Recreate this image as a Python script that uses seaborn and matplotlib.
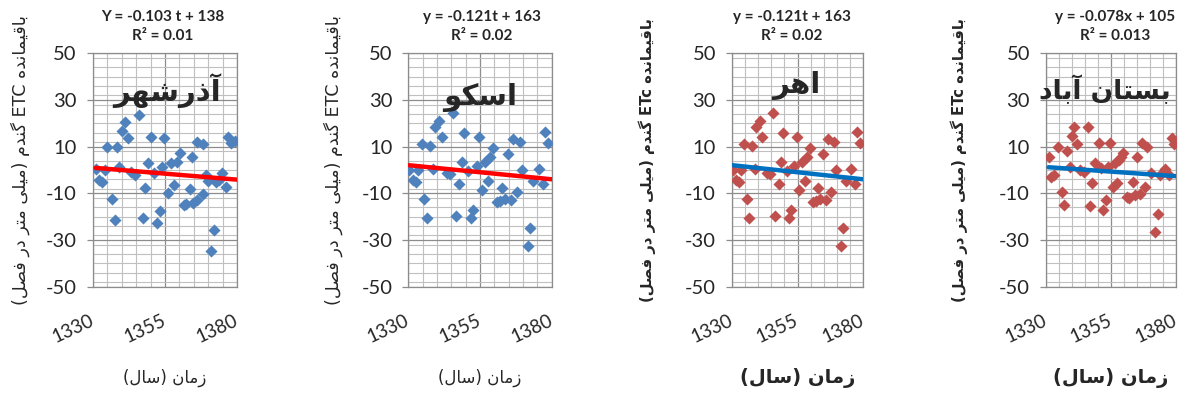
import re
import numpy as np
import pandas as pd
import matplotlib
matplotlib.use("Agg")
import matplotlib.pyplot as plt
import matplotlib.transforms as mtransforms
import seaborn as sns
from matplotlib.ticker import MultipleLocator, FixedLocator

# ---------------- data ----------------
years_azarshahr = [1331.0, 1332.2, 1333.3, 1334.3, 1335.0, 1336.6, 1337.6, 1338.3, 1339.2, 1340.3,
                   1341.2, 1342.1, 1343.2, 1344.7, 1346.1, 1347.3, 1348.1, 1349.2, 1350.2, 1351.2,
                   1352.1, 1353.3, 1354.1, 1354.8, 1356.1, 1357.0, 1358.1, 1359.0, 1360.2, 1361.6,
                   1362.4, 1363.5, 1364.3, 1364.7, 1365.9, 1366.2, 1368.0, 1368.2, 1369.1, 1370.0,
                   1371.0, 1372.1, 1372.6, 1373.7, 1374.8, 1376.0, 1376.8, 1377.7, 1379.2]
etc_azarshahr = [0.3, -4.3, -5.0, 0.0, 9.7, -12.6, -21.4, 10.0, 1.4, 16.8,
                 20.7, 13.6, -0.7, -2.1, 23.6, -20.7, -7.8, 2.9, 14.3, -1.1,
                 -22.9, -17.6, 1.4, 13.6, -10.0, 2.9, -6.4, 3.6, 7.4, -15.0,
                 -14.6, -8.3, 5.4, -14.3, -12.9, 12.1, 11.1, -10.3, -2.1, -4.7,
                 -34.6, -25.7, -5.0, -4.3, -1.4, -7.1, 14.3, 11.4, 12.6]

years_osku = [1330.3, 1331.7, 1332.7, 1333.5, 1334.7, 1335.6, 1336.6, 1337.6, 1338.6, 1339.3,
              1340.7, 1341.6, 1343.4, 1344.5, 1345.7, 1346.5, 1347.8, 1348.7, 1349.4, 1350.9,
              1351.7, 1352.7, 1353.8, 1354.8, 1355.7, 1356.7, 1357.9, 1358.5, 1359.6, 1360.8,
              1362.0, 1362.8, 1363.6, 1364.9, 1365.9, 1366.5, 1367.9, 1368.8, 1369.8, 1371.6,
              1372.5, 1373.5, 1375.4, 1376.8, 1377.7, 1378.8]
etc_osku = [0.0, -4.3, -5.0, 0.0, 11.1, -12.6, -20.7, 10.3, 0.5, 18.6,
            21.1, 14.0, -1.1, -1.7, 24.3, -19.7, -5.8, 3.3, 16.0, -0.3,
            -20.7, -17.0, 1.5, 14.0, -8.6, 3.6, -4.7, 5.7, 9.6, -13.8,
            -13.2, -7.5, -12.6, 7.0, -13.0, 13.1, -9.3, 12.1, 0.2, -32.6,
            -24.8, -4.8, 0.6, -6.1, 16.4, 11.7]

years_ahar = years_osku
etc_ahar = etc_osku

years_bostanabad = [1331.0, 1331.9, 1332.9, 1334.8, 1336.1, 1336.8, 1338.0, 1339.3, 1340.0, 1340.9,
                    1341.9, 1343.2, 1344.7, 1346.0, 1346.9, 1347.6, 1348.9, 1350.2, 1351.2, 1351.9,
                    1353.1, 1354.0, 1354.7, 1355.7, 1356.6, 1357.2, 1357.9, 1358.8, 1359.8, 1361.1,
                    1362.1, 1363.4, 1364.2, 1364.9, 1366.2, 1366.8, 1368.1, 1368.8, 1370.3, 1371.9,
                    1373.0, 1373.8, 1375.8, 1377.4, 1378.4, 1379.3]
etc_bostanabad = [5.7, -2.9, -2.1, 10.0, -9.3, -15.0, 8.3, 1.4, 14.6, 18.6,
                  11.1, -0.1, -1.0, 18.3, -15.4, -5.7, 2.9, 11.4, 0.7, -17.1,
                  -12.9, 1.1, 11.7, -7.1, 2.9, -5.7, 4.3, 5.7, 7.1, -11.4,
                  -12.0, -5.3, -10.7, 5.7, -10.3, 11.4, -7.4, 10.0, -1.4, -26.4,
                  -18.9, -2.1, 0.6, -2.1, 13.7, 11.0]

stations = ["آذرشهر", "اسکو", "اهر", "بستان آباد"]
slopes = [-0.103, -0.121, -0.121, -0.078]
intercepts = [138, 163, 163, 105]
equations = ["Y = -0.103 t + 138", "y = -0.121t + 163", "y = -0.121t + 163", "y = -0.078x + 105"]
r2_labels = ["R² = 0.01", "R² = 0.02", "R² = 0.02", "R² = 0.013"]
y_labels = ["باقیمانده ETC گندم (میلی متر در فصل)", "باقیمانده ETC گندم (میلی متر در فصل)",
            "باقیمانده ETc گندم (میلی متر در فصل)", "باقیمانده ETc گندم (میلی متر در فصل)"]
x_label = "زمان (سال)"
x_ticks = [1330, 1355, 1380]
y_ticks = [50, 30, 10, -10, -30, -50]

series_years = [years_azarshahr, years_osku, years_ahar, years_bostanabad]
series_etc = [etc_azarshahr, etc_osku, etc_ahar, etc_bostanabad]

# ---------------- Persian shaping helpers (matplotlib has no bidi/shaping) ----------------
_FORMS = {
    'ا': ('\uFE8D', '\uFE8E', None, None),
    'آ': ('\uFE81', '\uFE82', None, None),
    'ب': ('\uFE8F', '\uFE90', '\uFE91', '\uFE92'),
    'ت': ('\uFE95', '\uFE96', '\uFE97', '\uFE98'),
    'د': ('\uFEA9', '\uFEAA', None, None),
    'ذ': ('\uFEAB', '\uFEAC', None, None),
    'ر': ('\uFEAD', '\uFEAE', None, None),
    'ز': ('\uFEAF', '\uFEB0', None, None),
    'س': ('\uFEB1', '\uFEB2', '\uFEB3', '\uFEB4'),
    'ش': ('\uFEB5', '\uFEB6', '\uFEB7', '\uFEB8'),
    'ص': ('\uFEB9', '\uFEBA', '\uFEBB', '\uFEBC'),
    'ف': ('\uFED1', '\uFED2', '\uFED3', '\uFED4'),
    'ق': ('\uFED5', '\uFED6', '\uFED7', '\uFED8'),
    'ل': ('\uFEDD', '\uFEDE', '\uFEDF', '\uFEE0'),
    'م': ('\uFEE1', '\uFEE2', '\uFEE3', '\uFEE4'),
    'ن': ('\uFEE5', '\uFEE6', '\uFEE7', '\uFEE8'),
    'ه': ('\uFEE9', '\uFEEA', '\uFEEB', '\uFEEC'),
    'و': ('\uFEED', '\uFEEE', None, None),
    'ی': ('\uFBFC', '\uFBFD', '\uFBFE', '\uFBFF'),
    'ک': ('\uFB8E', '\uFB8F', '\uFB90', '\uFB91'),
    'گ': ('\uFB92', '\uFB93', '\uFB94', '\uFB95'),
}


def _shape(text):
    out = []
    n = len(text)
    for i, ch in enumerate(text):
        f = _FORMS.get(ch)
        if f is None:
            out.append(ch)
            continue
        prev = text[i - 1] if i > 0 else ''
        nxt = text[i + 1] if i < n - 1 else ''
        jp = prev in _FORMS and _FORMS[prev][2] is not None
        jn = f[2] is not None and nxt in _FORMS
        if jp and jn:
            out.append(f[3])
        elif jp:
            out.append(f[1])
        elif jn:
            out.append(f[2])
        else:
            out.append(f[0])
    return ''.join(out)


def fa(text):
    s = _shape(text)
    runs = re.findall(r'[A-Za-z0-9.]+|[^A-Za-z0-9.]', s)
    mirror = {'(': ')', ')': '('}
    return ''.join(mirror.get(r, r) for r in reversed(runs))


# ---------------- style ----------------
sns.set_theme(style="white")
FAM = ['Lato', 'DejaVu Sans']
plt.rcParams['font.family'] = FAM
plt.rcParams['axes.unicode_minus'] = False

W, H = 1180, 394
fig = plt.figure(figsize=(W / 100, H / 100), dpi=100)

lefts = [92.7, 408.3, 732.0, 1046.0]
rights = [237.3, 551.7, 863.0, 1176.0]
top_px, bot_px = 53.3, 286.7
ylab_x_px = [20, 333, 647, 959]
eq_x = [0.486, 0.512, 0.458, 0.53]
name_xy = [(0.514, 0.84), (0.50, 0.81), (0.49, 0.86), (0.455, 0.84)]
name_size = [21, 21, 21, 19]
point_colors = ['#4F81BD', '#4F81BD', '#C0504D', '#C0504D']
line_colors = ['#FF0000', '#FF0000', '#0070C0', '#0070C0']
bold_labels = [False, False, True, True]

shift = mtransforms.ScaledTranslation(-4 / 100, 0, fig.dpi_scale_trans)

for i in range(4):
    l, r = lefts[i], rights[i]
    ax = fig.add_axes([l / W, (H - bot_px) / H, (r - l) / W, (bot_px - top_px) / H])
    yrs = np.array(series_years[i])
    vals = np.array(series_etc[i])
    df = pd.DataFrame({'year': yrs, 'etc': vals})

    ax.set_xlim(x_ticks[0], x_ticks[-1])
    ax.set_ylim(y_ticks[-1], y_ticks[0])
    ax.xaxis.set_major_locator(FixedLocator(x_ticks))
    ax.xaxis.set_minor_locator(MultipleLocator(5))
    ax.yaxis.set_major_locator(FixedLocator(y_ticks))
    ax.yaxis.set_minor_locator(MultipleLocator(4))
    ax.grid(which='minor', color='#C0C0C0', lw=0.8)
    ax.grid(which='major', color='#8C8C8C', lw=0.9)
    ax.set_axisbelow(True)
    for sp in ax.spines.values():
        sp.set_color('#8C8C8C')
        sp.set_linewidth(0.9)

    sns.scatterplot(data=df, x='year', y='etc', ax=ax, marker='D', s=38,
                    color=point_colors[i], linewidth=0, zorder=3)
    xl = np.array([yrs.min(), x_ticks[-1]])
    sns.lineplot(x=xl, y=slopes[i] * xl + intercepts[i], ax=ax,
                 color=line_colors[i], lw=3.2, zorder=4)

    ax.tick_params(axis='y', which='major', length=4.5, width=0.9, color='#8C8C8C',
                   pad=7, labelsize=14.5, left=True)
    ax.tick_params(axis='x', which='major', length=0, pad=18, labelsize=13.6, bottom=True)
    ax.tick_params(which='minor', length=0)
    ax.set_yticklabels([str(v) for v in y_ticks])
    ax.set_xticklabels([str(v) for v in x_ticks], rotation=25, ha='right', va='top',
                       rotation_mode='anchor')
    for lab in ax.get_xticklabels():
        lab.set_transform(lab.get_transform() + shift)

    wt = 'bold' if bold_labels[i] else 'normal'
    ax.set_ylabel(fa(y_labels[i]), fontsize=10.6 if bold_labels[i] else 12.6,
                  fontweight=wt, family=['DejaVu Sans'])
    ax.yaxis.label.set_verticalalignment('center')
    ax.yaxis.set_label_coords((ylab_x_px[i] - l) / (r - l), (bot_px - 160) / (bot_px - top_px))

    ax.set_xlabel(fa(x_label), fontsize=14 if bold_labels[i] else 12, fontweight=wt,
                  family=['DejaVu Sans'])
    ax.xaxis.set_label_coords(0.5, (bot_px - 378) / (bot_px - top_px))
    ax.xaxis.label.set_verticalalignment('center')

    ax.text(eq_x[i], 1.115, equations[i] + "\n" + r2_labels[i], transform=ax.transAxes,
            ha='center', va='center', fontsize=11, fontweight='bold', linespacing=1.45,
            family=['Lato', 'DejaVu Sans'])
    ax.text(name_xy[i][0], name_xy[i][1], fa(stations[i]), transform=ax.transAxes,
            ha='center', va='center', fontsize=name_size[i], fontweight='bold',
            family=['DejaVu Sans'], zorder=5)

fig.savefig('out.png', dpi=100)
